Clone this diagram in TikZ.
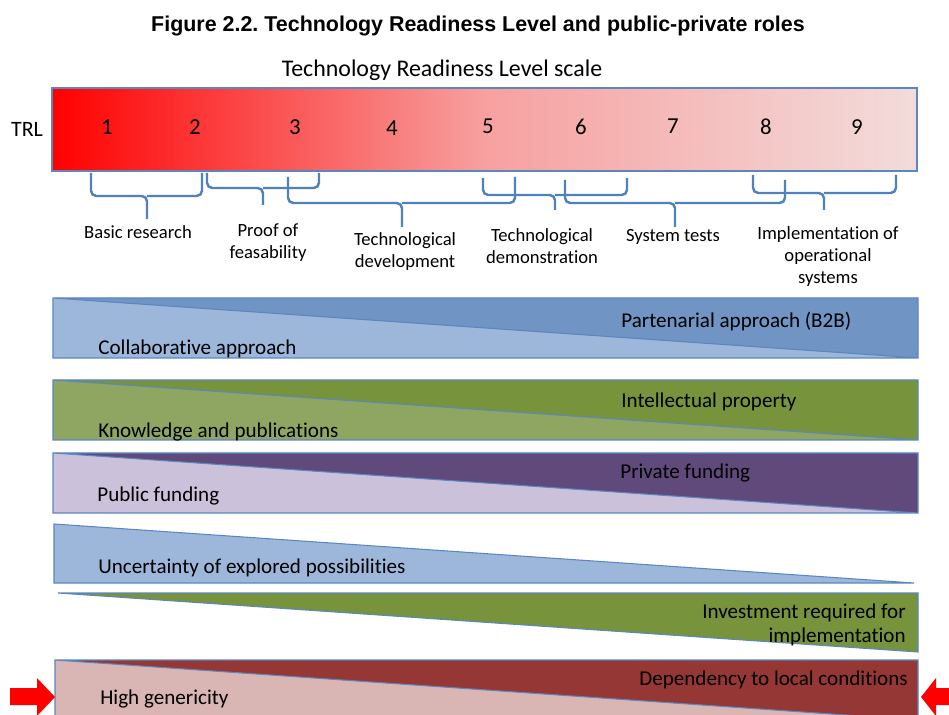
\documentclass[tikz,border=0pt]{standalone}
\usepackage{fontspec}
\setmainfont{Carlito}[Ligatures=CommonOff]
\newfontfamily\headfont{Liberation Sans}
\frenchspacing
\definecolor{trlpink}{HTML}{F2DCDB}
\definecolor{trlmid}{HTML}{F7A0A0}
\definecolor{bracecol}{HTML}{4F81BD}
\definecolor{edgecol}{HTML}{5B86C0}
\definecolor{bluelight}{HTML}{9DB7DB}
\definecolor{bluedark}{HTML}{7094C3}
\definecolor{greenlight}{HTML}{8EA661}
\definecolor{greendark}{HTML}{77933C}
\definecolor{purplelight}{HTML}{CCC1DA}
\definecolor{purpledark}{HTML}{604A7B}
\definecolor{redlight}{HTML}{D9B5B4}
\definecolor{reddark}{HTML}{953735}
\begin{document}
\begin{tikzpicture}[x=0.02cm,y=-0.02cm,font=\fontsize{12}{14}\selectfont]
	\useasboundingbox (0,0) rectangle (949,715);
	\clip (0,0) rectangle (949,715);
	\tikzstyle{every node}=[text=black,inner sep=0pt]
	\tikzstyle{num}=[font=\fontsize{13}{15}\selectfont] % TRL digits
	\tikzstyle{lab}=[align=center,font=\fontsize{10.6}{12.5}\selectfont] % brace labels
	\tikzstyle{br}=[draw=bracecol,line width=1.4pt,rounded corners=3pt]
	\tikzstyle{edge}=[draw=edgecol,line width=0.6pt]
	% titles
	\node(title) at (478,26) {\headfont\bfseries\fontsize{12.2}{14}\selectfont Figure 2.2. Technology Readiness Level and public-private roles};
	\node(scale) at (442,70) {\fontsize{13.6}{16}\selectfont Technology Readiness Level scale};
	% TRL bar
	\shade[left color=red,right color=trlpink,middle color=trlmid] (52,88) rectangle (917,171);
	\draw[edge] (52,88) rectangle (917,171);
	\node(trl) at (27,129) {\fontsize{12.5}{15}\selectfont TRL};
	\node(1)[num] at (107,127) {1};
	\node(2)[num] at (195,127) {2};
	\node(3)[num] at (295,127) {3};
	\node(4)[num] at (392,128) {4};
	\node(5)[num] at (488,126) {5};
	\node(6)[num] at (581,127) {6};
	\node(7)[num] at (673,126) {7};
	\node(8)[num] at (766,127) {8};
	\node(9)[num] at (857,127) {9};
	% braces
	\draw[br] (91,173)--(91,196)--(147,196)--(147,219) (202,173)--(202,196)--(147,196);
	\draw[br] (207,173)--(207,188)--(263,188)--(263,205) (319,173)--(319,188)--(263,188);
	\draw[br] (288,177)--(288,203)--(402,203)--(402,227) (515,177)--(515,203)--(402,203);
	\draw[br] (483,178)--(483,195)--(555,195)--(555,210) (627,178)--(627,195)--(555,195);
	\draw[br] (565,180)--(565,203)--(675,203)--(675,227) (785,180)--(785,203)--(675,203);
	\draw[br] (753,175)--(753,193)--(824,193)--(824,210) (896,175)--(896,193)--(824,193);
	\node(basic)[lab] at (138,232) {Basic research};
	\node(proof)[lab] at (268,243) {Proof of\\feasability};
	\node(devel)[lab] at (405,252) {Technological\\development};
	\node(demo)[lab] at (542,246) {Technological\\demonstration};
	\node(tests)[lab] at (673,237) {System tests};
	\node(impl)[lab] at (828,257) {Implementation of\\operational\\systems};
	% band blue
	\fill[bluelight] (53,298)--(918,358)--(53,358)--cycle;
	\fill[bluedark] (53,298)--(918,298)--(918,358)--cycle;
	\draw[edge] (53,298) rectangle (918,358) (53,298)--(918,358);
	\node(collab)[anchor=west] at (98,349) {Collaborative approach};
	\node(partner)[anchor=west] at (621,321) {Partenarial approach (B2B)};
	% band green
	\fill[greenlight] (53,380)--(918,440)--(53,440)--cycle;
	\fill[greendark] (53,380)--(918,380)--(918,440)--cycle;
	\draw[edge] (53,380) rectangle (918,440) (53,380)--(918,440);
	\node(know)[anchor=west] at (98,432) {Knowledge and publications};
	\node(ip)[anchor=west] at (621,402) {Intellectual property};
	% band purple
	\fill[purplelight] (53,453)--(918,513)--(53,513)--cycle;
	\fill[purpledark] (53,453)--(918,453)--(918,513)--cycle;
	\draw[edge] (53,453) rectangle (918,513) (53,453)--(918,513);
	\node(public)[anchor=west] at (97,496) {Public funding};
	\node(private)[anchor=west] at (620,473) {Private funding};
	% uncertainty / investment
	\fill[bluelight] (54,524)--(914,583)--(54,583)--cycle;
	\draw[edge] (54,524)--(914,583)--(54,583)--cycle;
	\node(uncert)[anchor=west] at (98,568) {Uncertainty of explored possibilities};
	\fill[greendark] (58,593)--(918,593)--(918,652)--cycle;
	\draw[edge] (58,593)--(918,593)--(918,652)--cycle;
	\node(invest)[anchor=east,align=right] at (906,625) {Investment required for\\implementation};
	% band red
	\fill[redlight] (55,660)--(918,720)--(55,720)--cycle;
	\fill[reddark] (55,660)--(918,660)--(918,720)--cycle;
	\draw[edge] (55,660) rectangle (918,720) (55,660)--(918,720);
	\node(generic)[anchor=west] at (100,699) {High genericity};
	\node(local)[anchor=east] at (908,680) {Dependency to local conditions};
	% red arrows
	\fill[red] (10,688)--(37,688)--(37,678)--(55,697)--(37,716)--(37,705)--(10,705)--cycle;
	\fill[red] (960,688)--(936,688)--(936,678)--(921,697)--(936,716)--(936,705)--(960,705)--cycle;
\end{tikzpicture}
\end{document}
